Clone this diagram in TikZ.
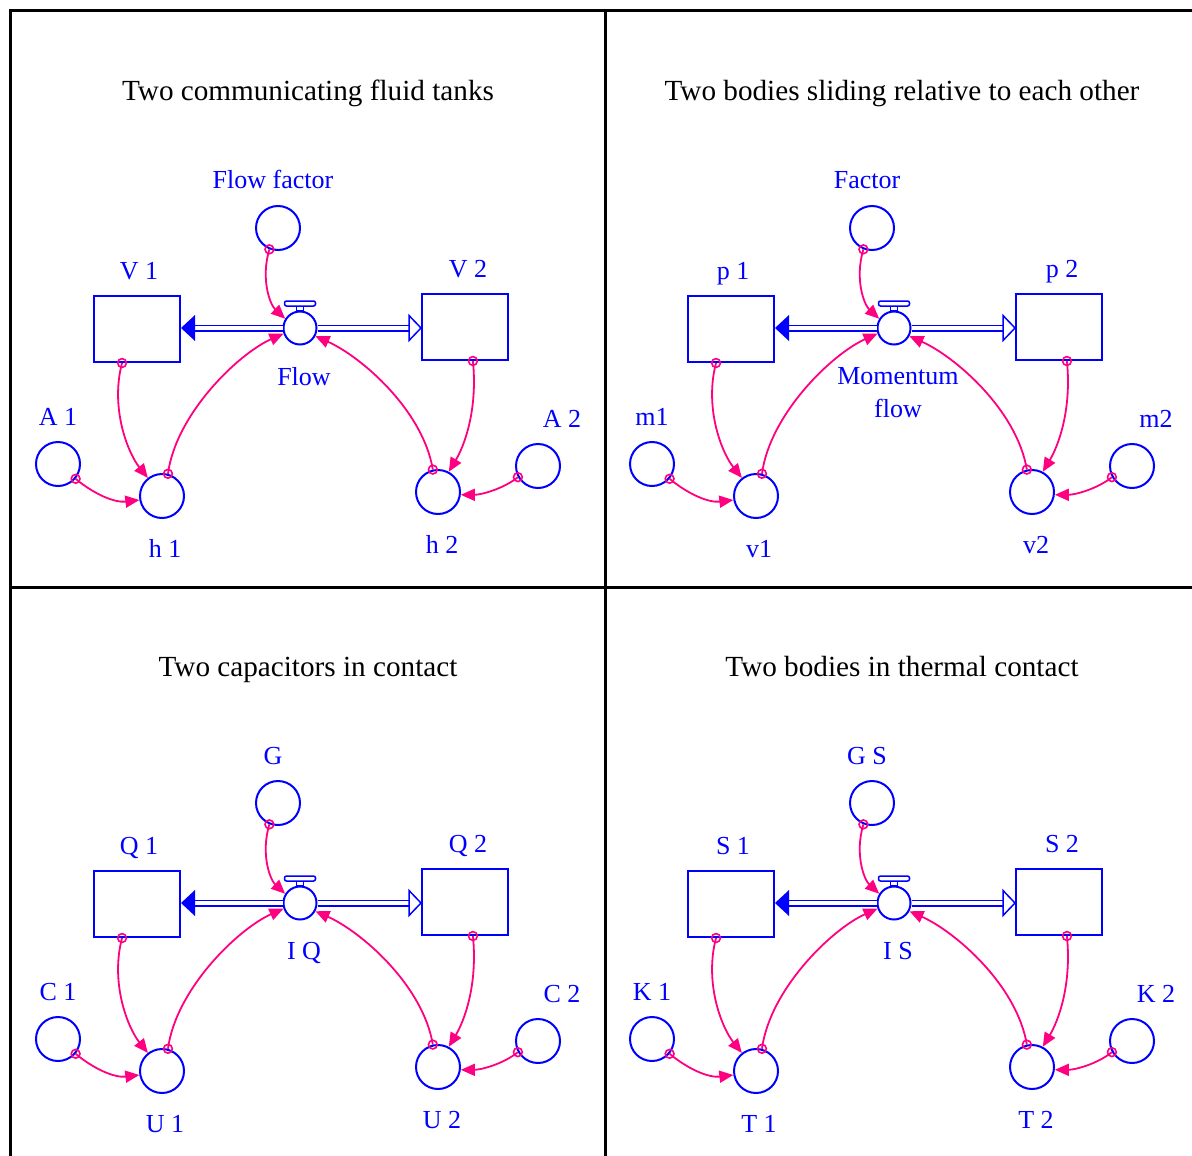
\documentclass[tikz,border=0pt]{standalone}
\usepackage{fontspec}
\setmainfont{Liberation Serif}
\usetikzlibrary{arrows.meta,calc}
\definecolor{vblue}{RGB}{0,0,255}
\definecolor{vmag}{RGB}{255,0,128}
\tikzset{
 aux/.style={circle, draw=vblue, line width=1pt, minimum size=22pt, inner sep=0pt},
 stock/.style={rectangle, draw=vblue, line width=1pt, minimum width=43pt, minimum height=33pt, inner sep=0pt},
 valve/.style={circle, draw=vblue, line width=1pt, minimum size=16.5pt, inner sep=0pt},
 lbl/.style={text=vblue, font=\fontsize{13}{16.5}\selectfont, inner sep=0pt, align=center, anchor=base},
 ttl/.style={text=black, font=\fontsize{14.6}{17}\selectfont, inner sep=0pt, anchor=base},
 conn/.style={draw=vmag, line width=0.9pt, -{Triangle[length=7pt,width=6pt]}},
 orig/.style={draw=vmag, line width=0.8pt},
 pipe/.style={draw=vblue, line width=0.75pt, double=white, double distance=2pt},
 pipetip/.style={draw=vblue, line width=0.75pt},
 gridline/.style={draw=black, line width=1.5pt, line cap=rect},
}
\newcommand\drawpanel[3]{%
\begin{scope}[shift={(#2,#3)}]
 \node[ttl] (#1title) at (308,101) {\pTitle};
 \node[aux] (#1ff) at (278,228) {};
 \node[lbl] (#1ffl) at (273,189) {\pFF};
 \node[stock] (#1sa) at (137,329) {};
 \node[lbl] (#1sal) at (139,279) {\pSA};
 \node[stock] (#1sb) at (465,327) {};
 \node[lbl] (#1sbl) at (468,277) {\pSB};
 \node[valve] (#1v) at (300,328) {};
 \node[lbl, anchor=north] (#1vl) at (304,367) {\pV};
 \node[aux] (#1aa) at (58,464) {};
 \node[lbl] (#1aal) at (58,425) {\pAA};
 \node[aux] (#1ha) at (162,496) {};
 \node[lbl] (#1hal) at (165,557) {\pHA};
 \node[aux] (#1hb) at (438,492) {};
 \node[lbl] (#1hbl) at (442,553) {\pHB};
 \node[aux] (#1ab) at (538,466) {};
 \node[lbl] (#1abl) at (562,427) {\pAB};
 % valve handle
 \draw[pipetip] ($(#1v.center)+(-3.5,-22)$) rectangle ($(#1v.north)+(3.5,0)$);
 \draw[pipetip, fill=white, rounded corners=1pt] ($(#1v.center)+(-15.5,-27)$) rectangle ($(#1v.center)+(15.5,-22)$);
 % pipes
 \coordinate (#1pa) at ($(#1sa.east |- #1v.center)+(14,0)$);
 \coordinate (#1pb) at ($(#1sb.west |- #1v.center)+(-12,0)$);
 \draw[pipe] (#1v.west) -- (#1pa);
 \fill[vblue] (#1sa.east |- #1v.center) -- ++(14,-13) -- ++(0,26) -- cycle;
 \draw[pipe] (#1v.east) -- (#1pb);
 \draw[pipetip, fill=white] (#1sb.west |- #1v.center) -- ++(-12,-12.5) -- ++(0,25) -- cycle;
 % connectors
 \draw[conn] (#1ff.248) .. controls +(-9,30) and +(-15,-14) .. (#1v.148);
 \draw[orig] (#1ff.248) circle[radius=2.2pt];
 \draw[conn] (#1ha.75) .. controls +(8,-60) and +(-45,20) .. (#1v.199);
 \draw[orig] (#1ha.75) circle[radius=2.2pt];
 \draw[conn] (#1hb.103) .. controls +(-10,-60) and +(45,20) .. (#1v.332);
 \draw[orig] (#1hb.103) circle[radius=2.2pt];
 \coordinate (#1sao) at ($(#1sa.south west)!0.33!(#1sa.south east)$);
 \draw[conn] (#1sao) .. controls +(-12,45) and +(-20,-25) .. (#1ha.128);
 \draw[orig] (#1sao) circle[radius=2.2pt];
 \coordinate (#1sbo) at ($(#1sb.south west)!0.59!(#1sb.south east)$);
 \draw[conn] (#1sbo) .. controls +(5,50) and +(15,-25) .. (#1hb.62);
 \draw[orig] (#1sbo) circle[radius=2.2pt];
 \draw[conn] (#1aa.320) .. controls +(18,15) and +(-25,3) .. (#1ha.190);
 \draw[orig] (#1aa.320) circle[radius=2.2pt];
 \draw[conn] (#1ab.209) .. controls +(-15,12) and +(20,0) .. (#1hb.353);
 \draw[orig] (#1ab.209) circle[radius=2.2pt];
\end{scope}}
\begin{document}
\begin{tikzpicture}[x=0.5pt,y=-0.5pt]
\useasboundingbox (0,0) rectangle (1192,1155);
\draw[gridline] (10,1155) -- (10,11) -- (1192,11);
\draw[gridline] (605,11) -- (605,1155);
\draw[gridline] (10,587) -- (1192,587);
\def\pTitle{Two communicating fluid tanks}\def\pFF{Flow factor}\def\pSA{V 1}\def\pSB{V 2}\def\pV{Flow}
\def\pAA{A 1}\def\pHA{h 1}\def\pHB{h 2}\def\pAB{A 2}
\drawpanel{a}{0}{0}
\def\pTitle{Two bodies sliding relative to each other}\def\pFF{Factor}\def\pSA{p 1}\def\pSB{p 2}\def\pV{Momentum\\flow}
\def\pAA{m1}\def\pHA{v1}\def\pHB{v2}\def\pAB{m2}
\drawpanel{b}{594}{0}
\def\pTitle{Two capacitors in contact}\def\pFF{G}\def\pSA{Q 1}\def\pSB{Q 2}\def\pV{I Q}
\def\pAA{C 1}\def\pHA{U 1}\def\pHB{U 2}\def\pAB{C 2}
\drawpanel{c}{0}{575}
\def\pTitle{Two bodies in thermal contact}\def\pFF{G S}\def\pSA{S 1}\def\pSB{S 2}\def\pV{I S}
\def\pAA{K 1}\def\pHA{T 1}\def\pHB{T 2}\def\pAB{K 2}
\drawpanel{d}{594}{575}
\end{tikzpicture}
\end{document}
